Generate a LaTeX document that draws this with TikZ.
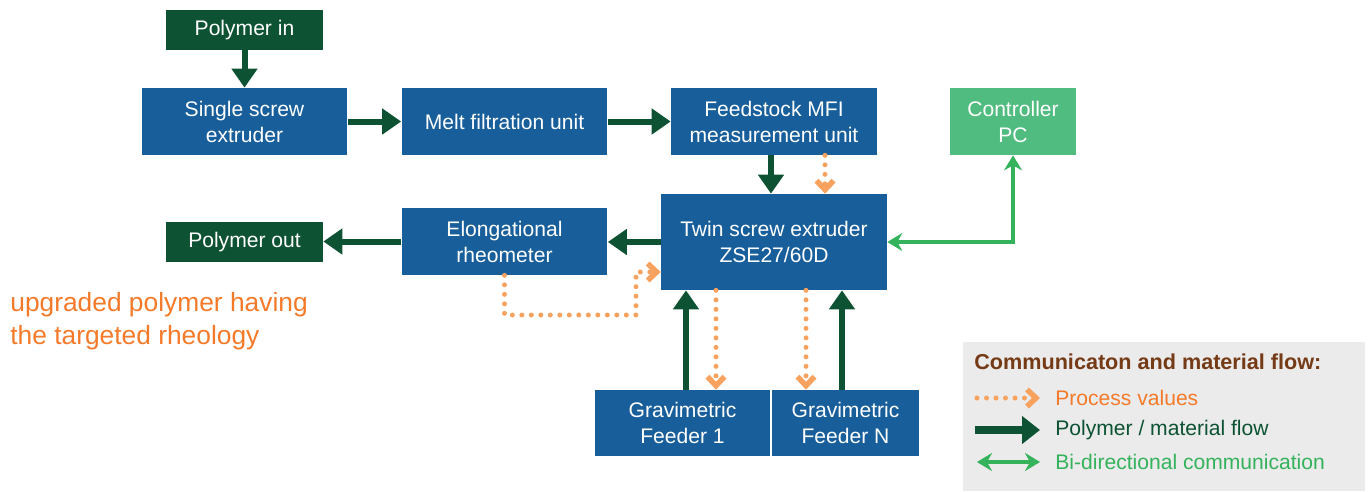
\documentclass[tikz,border=0pt]{standalone}
\usepackage{fontspec}
\setmainfont{Liberation Sans}
\usetikzlibrary{arrows.meta}
\definecolor{boxblue}{RGB}{23,94,155}
\definecolor{polgreen}{RGB}{13,83,51}
\definecolor{pcgreen}{RGB}{80,188,128}
\definecolor{comgreen}{RGB}{52,178,92}
\definecolor{pvorange}{RGB}{248,162,96}
\definecolor{txtorange}{RGB}{244,122,42}
\definecolor{legbrown}{RGB}{117,58,22}
\definecolor{leggray}{RGB}{235,235,235}
\tikzset{bx/.style = {rectangle, fill=boxblue, text=white, align=center, inner sep=0pt,
                      font=\fontsize{12}{14.8}\selectfont, minimum width=4.12cm, minimum height=1.34cm},
           pb/.style = {bx, fill=polgreen, minimum width=3.14cm, minimum height=0.8cm},
           flow/.style = {-{Triangle[length=0.38cm,width=0.5cm]}, line width=0.12cm, polgreen},
           com/.style = {{Stealth[length=0.3cm,width=0.36cm,inset=0.1cm]}-{Stealth[length=0.3cm,width=0.36cm,inset=0.1cm]},
                         line width=0.08cm, comgreen},
           pv/.style = {-{Straight Barb[length=0.18cm,width=0.34cm,line width=0.11cm]}, line width=0.1cm,
                        pvorange, line cap=round, dash pattern=on 0pt off 0.19cm},
           lg/.style = {anchor=west, inner sep=0pt, font=\fontsize{12}{14}\selectfont}}

\begin{document}
\begin{tikzpicture}[x=0.02cm, y=-0.02cm]
    \useasboundingbox (0,0) rectangle (1370,491);
    \node[pb] (pin) at (244.5,30) {Polymer in};
    \node[bx] (sse) at (244.5,121.5) {Single screw\\extruder};
    \node[bx] (mfu) at (504.5,121.5) {Melt filtration unit};
    \node[bx] (mfi) at (774,121.5) {Feedstock MFI\\measurement unit};
    \node[bx, fill=pcgreen, minimum width=2.52cm] (pc) at (1013,121.5) {Controller\\PC};
    \node[bx, minimum width=4.52cm, minimum height=1.92cm] (tse) at (774,242) {Twin screw extruder\\ZSE27/60D};
    \node[bx] (rheo) at (504.5,241.5) {Elongational\\rheometer};
    \node[pb] (pout) at (244.5,242) {Polymer out};
    \node[bx, minimum width=3.5cm, minimum height=1.32cm] (gf1) at (682.5,423) {Gravimetric\\Feeder 1};
    \node[bx, minimum width=2.94cm, minimum height=1.32cm] (gfn) at (845.5,423) {Gravimetric\\Feeder N};
    \node[anchor=west, align=left, inner sep=0pt, text=txtorange, font=\fontsize{15}{18.8}\selectfont] (note) at (10,321.5)
        {upgraded polymer having\\the targeted rheology};

    \draw[flow] (pin) -- (sse);
    \draw[flow] (sse) -- (mfu);
    \draw[flow] (mfu) -- (mfi);
    \draw[flow] (mfi.south -| 771,0) -- (tse.north -| 771,0);
    \draw[pv] (mfi.south -| 825,0) -- (tse.north -| 825,0);
    \draw[com] (pc.south) |- (tse.east);
    \draw[flow] (tse.west) -- (tse.west -| rheo.east);
    \draw[flow] (rheo.west) -- (rheo.west -| pout.east);
    \draw[pv] (rheo.south) |- (636,315) -- (636,272) -- (tse.west |- 0,272);
    \draw[flow] (gf1.north -| 686,0) -- (tse.south -| 686,0);
    \draw[flow] (gfn.north -| 842,0) -- (tse.south -| 842,0);
    \draw[pv] (tse.south -| 716,0) -- (gf1.north -| 716,0);
    \draw[pv] (tse.south -| 806,0) -- (gfn.north -| 806,0);

    % legend
    \fill[leggray] (963,342) rectangle (1365,491);
    \node[lg, font=\fontsize{12.3}{14}\bfseries, text=legbrown] (lgt) at (974,362) {Communicaton and material flow:};
    \coordinate (pva) at (977,398); \coordinate (pvb) at (1040,398);
    \coordinate (pma) at (975,430); \coordinate (pmb) at (1040,430);
    \coordinate (bia) at (977,462); \coordinate (bib) at (1040,462);
    \draw[pv] (pva) -- (pvb);
    \draw[flow, line width=0.16cm, -{Triangle[length=0.36cm,width=0.54cm]}] (pma) -- (pmb);
    \draw[com] (bia) -- (bib);
    \node[lg, text=txtorange] (pvt) at (1055,398) {Process values};
    \node[lg, text=polgreen] (pmt) at (1055,430) {Polymer / material flow};
    \node[lg, text=comgreen] (bit) at (1055,462) {Bi-directional communication};
\end{tikzpicture}
\end{document}
